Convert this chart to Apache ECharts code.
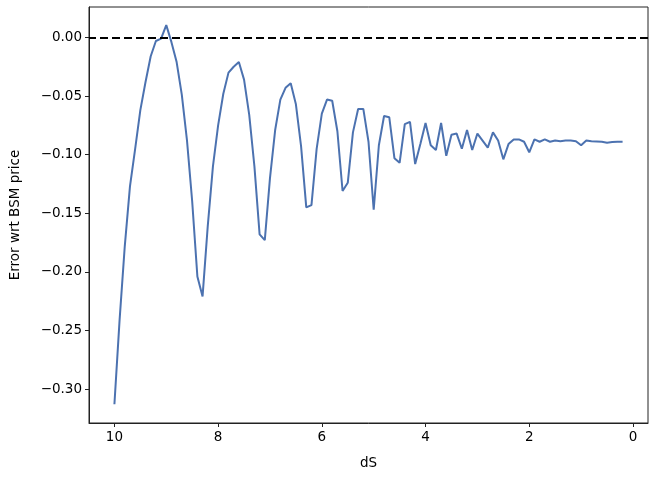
<!DOCTYPE html>
<html>
<head>
<meta charset="utf-8">
<script src="https://cdn.jsdelivr.net/npm/echarts@6/dist/echarts.min.js"></script>
<style>
html,body{margin:0;padding:0;background:#fff;}
#chart{width:652px;height:478px;}
</style>
</head>
<body>
<div id="chart"></div>
<script>
const dS = [10.0,9.9,9.8,9.7,9.6,9.5,9.4,9.3,9.2,9.1,9.0,8.9,8.8,8.7,8.6,8.5,8.4,8.3,8.2,8.1,8.0,7.9,7.8,7.7,7.6,7.5,7.4,7.3,7.2,7.1,7.0,6.9,6.8,6.7,6.6,6.5,6.4,6.3,6.2,6.1,6.0,5.9,5.8,5.7,5.6,5.5,5.4,5.3,5.2,5.1,5.0,4.9,4.8,4.7,4.6,4.5,4.4,4.3,4.2,4.1,4.0,3.9,3.8,3.7,3.6,3.5,3.4,3.3,3.2,3.1,3.0,2.9,2.8,2.7,2.6,2.5,2.4,2.3,2.2,2.1,2.0,1.9,1.8,1.7,1.6,1.5,1.4,1.3,1.2,1.1,1.0,0.9,0.8,0.7,0.6,0.5,0.4,0.3,0.2];
const errorVals = [-0.313,-0.241,-0.178,-0.127,-0.095,-0.062,-0.038,-0.016,-0.003,-0.001,0.0105,-0.004,-0.021,-0.049,-0.088,-0.140,-0.204,-0.221,-0.161,-0.110,-0.075,-0.048,-0.030,-0.025,-0.021,-0.036,-0.066,-0.110,-0.168,-0.173,-0.120,-0.079,-0.053,-0.043,-0.039,-0.057,-0.093,-0.145,-0.143,-0.095,-0.065,-0.053,-0.054,-0.080,-0.131,-0.124,-0.081,-0.061,-0.061,-0.089,-0.147,-0.092,-0.067,-0.068,-0.103,-0.107,-0.074,-0.072,-0.108,-0.091,-0.073,-0.092,-0.096,-0.073,-0.101,-0.083,-0.082,-0.095,-0.079,-0.096,-0.082,-0.088,-0.094,-0.081,-0.088,-0.104,-0.091,-0.087,-0.087,-0.089,-0.098,-0.087,-0.089,-0.087,-0.089,-0.088,-0.0885,-0.088,-0.088,-0.0885,-0.092,-0.088,-0.0885,-0.0887,-0.089,-0.0898,-0.0893,-0.089,-0.089];
const xTicks = [0,2,4,6,8,10];
const yTicks = [-0.30,-0.25,-0.20,-0.15,-0.10,-0.05,0.00];
const refLevel = 0;

const chart = echarts.init(document.getElementById('chart'), null, {renderer:'canvas'});
const font = 'DejaVu Sans';
const fmtY = v => (v < 0 ? '\u2212' : '') + Math.abs(v).toFixed(2);
chart.setOption({
  animation:false,
  backgroundColor:'#fff',
  grid:{left:89,right:4,top:7,bottom:55,show:true,borderColor:'#222',borderWidth:1,backgroundColor:'transparent'},
  xAxis:{
    type:'value', inverse:true, min:-0.29, max:10.49,
    name:'dS', nameLocation:'middle', nameGap:33,
    nameTextStyle:{fontFamily:font,fontSize:13.5,color:'#000'},
    axisLine:{show:true,onZero:false,lineStyle:{color:'#222',width:1}},
    axisTick:{show:true,customValues:xTicks,length:4,lineStyle:{color:'#222'}},
    axisLabel:{customValues:xTicks,fontFamily:font,fontSize:13.5,color:'#000',margin:7,formatter:v=>String(v)},
    splitLine:{show:false}
  },
  yAxis:{
    type:'value', min:-0.329, max:0.026,
    name:'Error wrt BSM price', nameLocation:'middle', nameGap:67, nameRotate:90,
    nameTextStyle:{fontFamily:font,fontSize:13.5,color:'#000'},
    axisLine:{show:true,onZero:false,lineStyle:{color:'#222',width:1}},
    axisTick:{show:true,customValues:yTicks,length:4,lineStyle:{color:'#222'}},
    axisLabel:{customValues:yTicks,fontFamily:font,fontSize:13.5,color:'#000',margin:7,formatter:fmtY},
    splitLine:{show:false}
  },
  series:[{
    type:'line',
    data:dS.map((x,i)=>[x,errorVals[i]]),
    showSymbol:false,
    symbol:'none',
    lineStyle:{color:'#4c72b0',width:2},
    itemStyle:{color:'#4c72b0'},
    markLine:{
      silent:true, symbol:['none','none'], label:{show:false},
      lineStyle:{color:'#000',type:[8,4],width:2},
      data:[{yAxis:refLevel}]
    }
  }]
});
</script>
</body>
</html>
